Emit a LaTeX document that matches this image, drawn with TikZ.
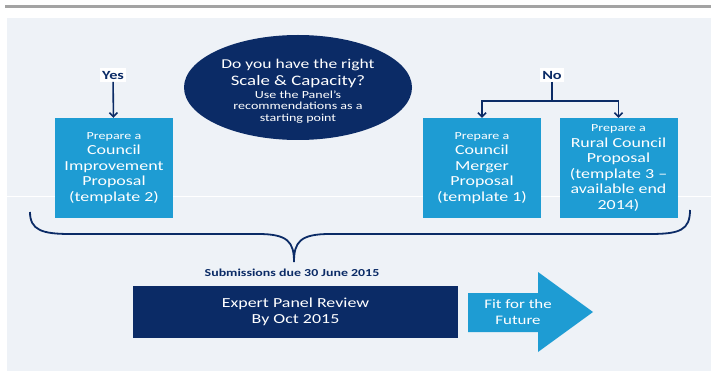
\documentclass[tikz,border=0pt]{standalone}
\usepackage{fontspec}
\setmainfont{Carlito}[FakeStretch=1.3]
\usetikzlibrary{shapes.geometric,arrows.meta}

\definecolor{navy}{HTML}{0B2B66}
\definecolor{tealblue}{HTML}{1E9CD3}
\definecolor{panelbg}{HTML}{EEF2F7}
\definecolor{rulegray}{HTML}{A3A3A3}

\begin{document}
\begin{tikzpicture}[
  x=1pt, y=-1pt,
  propbox/.style={rectangle, fill=tealblue, text=white, minimum width=118pt, minimum height=100pt, inner sep=2pt, align=center, font=\fontsize{13.8}{15.5}\selectfont},
  answer/.style={fill=white, text=navy, inner sep=2.5pt, font=\bfseries\fontsize{12.5}{13}\selectfont},
  link/.style={line width=1.6pt, draw=navy, -{Straight Barb[length=4pt,width=8pt]}},
  trunk/.style={line width=1.6pt, draw=navy}
]
  \useasboundingbox (0,0) rectangle (711,371);

  % --- Page frame ---
  \fill[white] (0,0) rectangle (711,371);
  \draw[rulegray, line width=3pt] (5,7) -- (711,7);
  \fill[panelbg] (7,18) rectangle (711,371);
  \draw[white, line width=1pt] (0,197) -- (711,197);

  % --- Question ---
  \node[ellipse, fill=navy, minimum width=228pt, minimum height=105pt, inner sep=0pt]
    (question) at (298,87.5) {};
  \node[text=white, align=center, font=\fontsize{10.8}{12}\selectfont] (prompt) at (298,91)
    {\fontsize{13.5}{12}\selectfont Do you have the right\\[4pt]
     \fontsize{14.5}{12}\selectfont Scale \& Capacity?\\[1pt]
     \fontsize{10.8}{12}\selectfont Use the Panel's\\[-1pt]
     recommendations as a\\
     starting point};

  % --- Answers ---
  \node[answer] (yes) at (113,75) {Yes};
  \node[answer] (no)  at (552,75) {No};

  % --- Proposals ---
  \node[propbox] (improve) at (114,168)
    {{\fontsize{10.8}{11}\selectfont Prepare a}\\Council\\Improvement\\Proposal\\(template 2)};
  \node[propbox] (merger) at (482,168)
    {{\fontsize{10.8}{11}\selectfont Prepare a}\\Council\\Merger\\Proposal\\(template 1)};
  \node[propbox] (rural) at (618.5,168)
    {{\fontsize{10.8}{11}\selectfont Prepare a}\\Rural Council\\Proposal\\(template 3 --\\available end\\2014)};

  \draw[link] (yes) -- (improve);
  \coordinate (split) at (552,101);
  \draw[trunk] (no) -- (split);
  \draw[link] (split) -| (merger);
  \draw[link] (split) -| (rural);

  % --- Brace gathering the proposals ---
  \coordinate (tip) at (294,262);
  \draw[navy, line width=1.8pt]
    (30,212) .. controls (30,230) and (42,234) .. (70,234)
    -- (258,234) .. controls (288,234) and (294,242) .. (tip)
    .. controls (294,242) and (300,234) .. (330,234)
    -- (650,234) .. controls (680,234) and (690,230) .. (690,210);

  \node[text=navy, font=\bfseries\fontsize{10.7}{11}\selectfont] (due) at (292,273)
    {Submissions due 30 June 2015};

  % --- Review and outcome ---
  \node[rectangle, fill=navy, text=white, minimum width=325pt, minimum height=52pt, align=center,
        font=\fontsize{13.8}{16}\selectfont] (review) at (295.5,312)
    {Expert Panel Review\\By Oct 2015};

  \fill[tealblue] (468,293) -- (538,293) -- (538,272) -- (593,312)
    -- (538,352) -- (538,332) -- (468,332) -- cycle;
  \node[text=white, align=center, font=\fontsize{13}{16}\selectfont] (future) at (518,312)
    {Fit for the\\Future};
\end{tikzpicture}
\end{document}
